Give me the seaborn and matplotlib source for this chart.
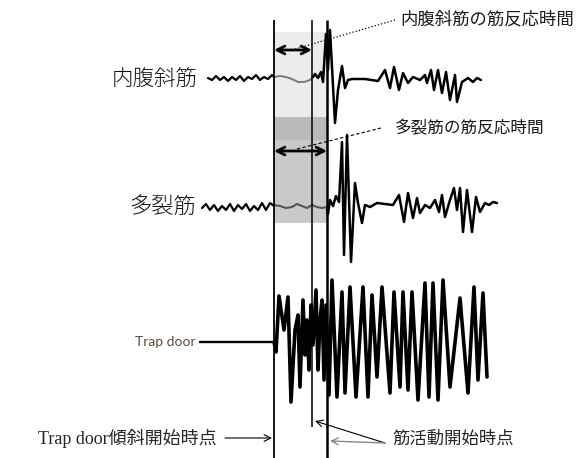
import numpy as np
import pandas as pd
import matplotlib
matplotlib.use('Agg')
import matplotlib.pyplot as plt
import seaborn as sns

# onset times (x in picture units)
onset_trap = 274   # trap door starts to tilt
onset_obl = 312    # 内腹斜筋 onset
onset_mul = 327    # 多裂筋 onset

# 内腹斜筋 trace: before tilt, latency (gray), response
obl_pre_x = [208, 212, 216, 220, 224, 228, 232, 236, 240, 244, 248, 252, 256, 260, 264, 268, 272, 274]
obl_pre_y = [78, 80, 76, 80, 77, 81, 77, 80, 76, 81, 77, 79, 75, 80, 77, 79, 75, 77]
obl_lat_x = [274, 280, 286, 292, 298, 304, 310, 313]
obl_lat_y = [77, 76, 77, 79, 82, 82, 80, 77]
obl_resp_x = [313, 315, 318, 321, 323, 326, 328, 330, 335, 338, 342, 345, 348, 352, 365, 378, 385, 390, 394,
              399, 403, 408, 413, 420, 425, 427, 431, 434, 438, 442, 446, 450, 455, 457, 462, 468, 473, 477, 481]
obl_resp_y = [77, 74, 78, 72, 82, 34, 70, 30, 123, 90, 66, 88, 80, 79, 79, 81, 70, 88, 67,
              90, 73, 83, 77, 80, 75, 83, 70, 90, 70, 93, 72, 100, 75, 102, 82, 78, 82, 78, 80]

# 多裂筋 trace
mul_pre_x = [202, 206, 210, 214, 218, 222, 226, 230, 234, 238, 242, 246, 250, 254, 258, 262, 266, 270, 274]
mul_pre_y = [208, 204, 210, 205, 211, 206, 210, 204, 211, 205, 209, 204, 211, 206, 210, 203, 210, 203, 206]
mul_lat_x = [274, 280, 286, 292, 297, 302, 307, 312, 317, 322, 327]
mul_lat_y = [205, 206, 208, 207, 204, 206, 208, 205, 207, 208, 207]
mul_resp_x = [327, 328, 330, 333, 336, 339, 342, 344, 347, 351, 355, 358, 362, 365, 370, 377, 393, 399, 404,
              408, 413, 417, 420, 425, 430, 435, 439, 442, 445, 450, 454, 457, 460, 463, 467, 472, 476, 480,
              485, 489, 493, 497]
mul_resp_y = [210, 214, 200, 206, 196, 202, 142, 255, 135, 262, 183, 203, 223, 205, 207, 203, 205, 195, 222,
              193, 218, 198, 213, 205, 208, 200, 212, 195, 217, 200, 188, 210, 188, 232, 190, 232, 197, 212,
              203, 205, 202, 203]

# Trap door trace
trap_lead_x = [200, 275]
trap_lead_y = [342, 342]
trap_x = [274, 276, 279, 284, 288, 291, 295, 298, 300, 303, 305, 307, 309, 311, 313, 316, 318, 320, 322,
          324, 326, 329, 332, 337, 342, 345, 350, 356, 363, 368, 372, 377, 382, 390, 394, 400, 403, 408,
          412, 418, 425, 429, 433, 438, 443, 450, 460, 468, 474, 478, 483, 487]
trap_y = [342, 352, 296, 330, 297, 402, 330, 315, 387, 300, 355, 320, 370, 305, 345, 290, 370, 320, 300,
          380, 305, 395, 280, 397, 292, 393, 287, 397, 287, 397, 295, 377, 287, 393, 292, 387, 292, 390,
          292, 400, 283, 397, 283, 400, 280, 387, 298, 393, 287, 380, 293, 377]

sns.set_style('white')
plt.rcParams['font.family'] = ['Noto Sans CJK JP', 'DejaVu Sans']

fig = plt.figure(figsize=(5.76, 4.58), dpi=100)
ax = fig.add_axes([0, 0, 1, 1])

# shaded latency boxes
ax.fill_between([onset_trap, onset_mul], 32, 118, color='#ececec', lw=0)
ax.fill_between([onset_trap, onset_mul], 117, 140, color='#b9b9b9', lw=0)
ax.fill_between([onset_trap, onset_mul], 140, 223, color='#c9c9c9', lw=0)

# traces
def trace(x, y, color='black', lw=1.8):
    sns.lineplot(x=x, y=y, ax=ax, sort=False, estimator=None, color=color, linewidth=lw)

trace(obl_pre_x, obl_pre_y, lw=1.6)
trace(obl_lat_x, obl_lat_y, color='#7a7a7a', lw=1.4)
trace(obl_resp_x, obl_resp_y)
trace(mul_pre_x, mul_pre_y, lw=1.6)
trace(mul_lat_x, mul_lat_y, color='#555555', lw=1.5)
trace(mul_resp_x, mul_resp_y)
trace(trap_lead_x, trap_lead_y, lw=1.7)
trace(trap_x, trap_y, lw=2.6)

# onset lines
ax.vlines(onset_trap, 20, 458, color='black', lw=1.3)
ax.vlines(onset_obl, 20, 427, color='black', lw=1.1)
ax.vlines(onset_mul, 20, 458, color='black', lw=1.8)

# latency double arrows
ax.annotate('', xy=(onset_obl, 50), xytext=(onset_trap, 50),
            arrowprops=dict(arrowstyle='<->', lw=2, color='black', mutation_scale=14, shrinkA=0, shrinkB=0))
ax.annotate('', xy=(onset_mul, 151), xytext=(onset_trap, 151),
            arrowprops=dict(arrowstyle='<->', lw=2, color='black', mutation_scale=14, shrinkA=0, shrinkB=0))

# leaders to labels
ax.plot([395, 295], [20, 49], ls=':', lw=0.9, color='black')
ax.plot([381, 297], [128, 149], ls=(0, (3, 2)), lw=0.8, color='black')
ax.text(400, 20, '内腹斜筋の筋反応時間', ha='left', va='center', fontsize=12.5, color='#1a1a1a')
ax.text(395, 129, '多裂筋の筋反応時間', ha='left', va='center', fontsize=12, color='#1a1a1a')

# trace labels
ax.text(198, 79, '内腹斜筋', ha='right', va='center', fontsize=15.5, color='#111111', fontweight='light')
ax.text(196, 208, '多裂筋', ha='right', va='center', fontsize=16, color='#111111', fontweight='light')
ax.text(196, 342, 'Trap door', ha='right', va='center', fontsize=10, color='#5a4a3c', family='Lato')

# bottom annotations
serif = ['Liberation Serif', 'Noto Sans CJK JP']
ax.text(38, 438, 'Trap door傾斜開始時点', ha='left', va='center', fontsize=13, family=serif)
ax.annotate('', xy=(272, 438), xytext=(225, 438),
            arrowprops=dict(arrowstyle='->', lw=0.8, color='black', mutation_scale=12, shrinkA=0, shrinkB=0))
ax.text(392, 440, '筋活動開始時点', ha='left', va='center', fontsize=12.5, family=serif)
ax.annotate('', xy=(315, 421), xytext=(385, 443),
            arrowprops=dict(arrowstyle='->', lw=0.8, color='black', mutation_scale=12, shrinkA=0, shrinkB=0))
ax.annotate('', xy=(330, 441), xytext=(385, 443),
            arrowprops=dict(arrowstyle='->', lw=1.0, color='#888888', mutation_scale=12, shrinkA=0, shrinkB=0))

ax.set_xlim(0, 576)
ax.set_ylim(458, 0)
ax.axis('off')

fig.savefig('out.png', dpi=100)
